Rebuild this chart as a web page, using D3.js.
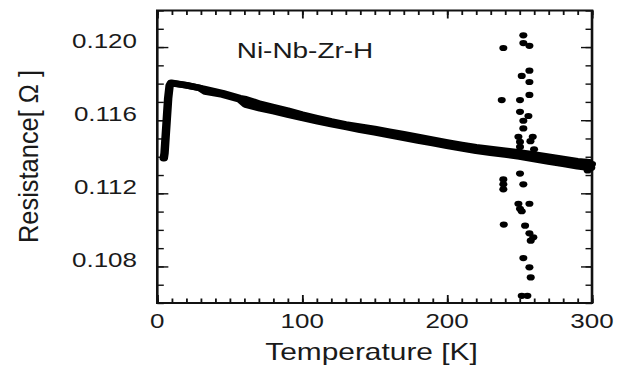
<!DOCTYPE html>
<html>
<head>
<meta charset="utf-8">
<script src="https://cdn.jsdelivr.net/npm/d3@7"></script>
<style>
  body { margin: 0; background: #fff; }
</style>
</head>
<body>
<script>
// two traces of the R(T) curve (upper / lower edge of the thick band)
const tempA = [4.5, 5, 5.5, 6.5, 7.5, 8.5, 9.5, 20, 29, 33, 45, 57, 61, 71, 80, 90, 100, 110, 120, 130, 140, 150,
  160, 170, 180, 190, 200, 210, 220, 230, 240, 250, 260, 270, 280, 290, 298];
const resistA = [0.11392, 0.11420, 0.11480, 0.11600, 0.11720, 0.11790, 0.11805, 0.11791, 0.11777, 0.11770, 0.11748,
  0.11721, 0.11715, 0.11689, 0.11671, 0.11652, 0.11631, 0.11612, 0.11593, 0.11577, 0.11564, 0.11552,
  0.11537, 0.11523, 0.11508, 0.11494, 0.11479, 0.11465, 0.11452, 0.11442, 0.11433, 0.11423, 0.11412,
  0.11400, 0.11388, 0.11376, 0.11370];

const tempB = [10, 20, 29, 33, 45, 57, 61, 71, 80, 90, 100, 110, 120, 130, 140, 150, 160, 170, 180, 190, 200,
  210, 220, 230, 240, 250, 260, 270, 280, 290, 298];
const resistB = [0.11802, 0.11791, 0.11777, 0.11757, 0.11740, 0.11713, 0.11685, 0.11665, 0.11649, 0.11631, 0.11612,
  0.11595, 0.11579, 0.11563, 0.11547, 0.11533, 0.11518, 0.11504, 0.11489, 0.11475, 0.11460,
  0.11446, 0.11433, 0.11422, 0.11412, 0.11401, 0.11387, 0.11374, 0.11361, 0.11348, 0.11340];

// scattered points near 250 K and the end cluster
const noiseTemp = [252.6, 252.6, 256.8, 238.8, 256.8, 251.5, 256.8, 256.8, 237.7, 250.3, 250.3, 256.1, 252.6, 252.6,
  249.2, 259.1, 250.3, 257.5, 250.3, 260, 250.3, 238.8, 238.8, 238.8, 252.6, 249.2, 256.8, 250.3, 251.5,
  239.1, 253.8, 256.8, 259.5, 257.7, 252.6, 256.8, 257.7, 251.5, 255.4,
  296, 298, 299.5, 297, 300];
const noiseResist = [0.12064, 0.12022, 0.12007, 0.11995, 0.11871, 0.11842, 0.11809, 0.11738, 0.11710, 0.11710,
  0.11646, 0.11623, 0.11597, 0.11555, 0.11509, 0.11509, 0.11481, 0.11485, 0.11454, 0.11441, 0.11308,
  0.11276, 0.11249, 0.11222, 0.11249, 0.11143, 0.11143, 0.11115, 0.11102, 0.11029, 0.11023, 0.10981,
  0.10959, 0.10941, 0.10846, 0.10795, 0.10740, 0.10639, 0.10639,
  0.11372, 0.11355, 0.11340, 0.11325, 0.11360];

const xTicks = [0, 100, 200, 300];
const yTicks = [0.108, 0.112, 0.116, 0.120];
const xMinor = d3.range(0, 301, 10);
const yMinor = d3.range(106, 123).map(d => d / 1000);

const width = 625;
const height = 365;
const stretch = 1.3; // the original picture is wider than tall

const svg = d3.select("body")
  .append("svg")
    .attr("width", width)
    .attr("height", height);

const g = svg.append("g")
  .attr("transform", "scale(" + stretch + ",1)");

const x = d3.scaleLinear()
  .domain([0, 300])
  .range([121, 455.4]);

const y = d3.scaleLinear()
  .domain([0.106, 0.122])
  .range([303, 10.5]);

const font = "'Liberation Sans', Arial, sans-serif";

// ticks on all four sides, pointing inwards
function ticks(axis, vals, size, transform) {
  const a = g.append("g")
    .attr("transform", transform)
    .call(axis.tickValues(vals).tickSizeInner(-size).tickSizeOuter(0).tickFormat(""));
  a.select(".domain").remove();
  a.selectAll("line").attr("stroke", "#111").attr("stroke-width", 1.4);
}
ticks(d3.axisBottom(x), xMinor, 4.5, "translate(0," + y(0.106) + ")");
ticks(d3.axisBottom(x), xTicks, 8, "translate(0," + y(0.106) + ")");
ticks(d3.axisTop(x), xMinor, 4.5, "translate(0," + y(0.122) + ")");
ticks(d3.axisTop(x), xTicks, 8, "translate(0," + y(0.122) + ")");
ticks(d3.axisLeft(y), yMinor, 5, "translate(" + x(0) + ",0)");
ticks(d3.axisLeft(y), yTicks, 8.5, "translate(" + x(0) + ",0)");
ticks(d3.axisRight(y), yMinor, 5, "translate(" + x(300) + ",0)");
ticks(d3.axisRight(y), yTicks, 8.5, "translate(" + x(300) + ",0)");

// frame
g.append("rect")
  .attr("x", x(0))
  .attr("y", y(0.122))
  .attr("width", x(300) - x(0))
  .attr("height", y(0.106) - y(0.122))
  .attr("fill", "none")
  .attr("stroke", "#111")
  .attr("stroke-width", 2);

// tick labels
g.selectAll(".xlab")
  .data(xTicks)
  .enter().append("text")
    .attr("class", "xlab")
    .attr("x", d => x(d))
    .attr("y", 328)
    .attr("text-anchor", "middle")
    .attr("font-family", font)
    .attr("font-size", "20px")
    .attr("fill", "#1a1a1a")
    .text(d => d);

g.selectAll(".ylab")
  .data(yTicks)
  .enter().append("text")
    .attr("class", "ylab")
    .attr("x", 105.4)
    .attr("y", d => y(d) + 1)
    .attr("text-anchor", "end")
    .attr("font-family", font)
    .attr("font-size", "20px")
    .attr("fill", "#1a1a1a")
    .text(d => d.toFixed(3));

// axis titles
g.append("text")
  .attr("x", 285.8)
  .attr("y", 360)
  .attr("text-anchor", "middle")
  .attr("font-family", font)
  .attr("font-size", "23px")
  .attr("fill", "#1a1a1a")
  .text("Temperature [K]");

g.append("text")
  .attr("transform", "translate(29.2,156.5) rotate(-90)")
  .attr("text-anchor", "middle")
  .attr("font-family", font)
  .attr("font-size", "21.5px")
  .attr("textLength", 173)
  .attr("lengthAdjust", "spacingAndGlyphs")
  .attr("fill", "#1a1a1a")
  .text("Resistance[ Ω ]");

g.append("text")
  .attr("x", 182.1)
  .attr("y", 58.3)
  .attr("font-family", font)
  .attr("font-size", "21.5px")
  .attr("fill", "#1a1a1a")
  .text("Ni-Nb-Zr-H");

// data band
const line = d3.line()
  .x(d => x(d[0]))
  .y(d => y(d[1]));

[[tempA, resistA], [tempB, resistB]].forEach(s => {
  g.append("path")
    .datum(s[0].map((t, i) => [t, s[1][i]]))
    .attr("d", line)
    .attr("fill", "none")
    .attr("stroke", "#000")
    .attr("stroke-width", 6.5)
    .attr("stroke-linejoin", "round")
    .attr("stroke-linecap", "round");
});

g.selectAll(".noise")
  .data(noiseTemp.map((t, i) => [t, noiseResist[i]]))
  .enter().append("circle")
    .attr("class", "noise")
    .attr("cx", d => x(d[0]))
    .attr("cy", d => y(d[1]))
    .attr("r", 3.1)
    .attr("fill", "#000");
</script>
</body>
</html>
